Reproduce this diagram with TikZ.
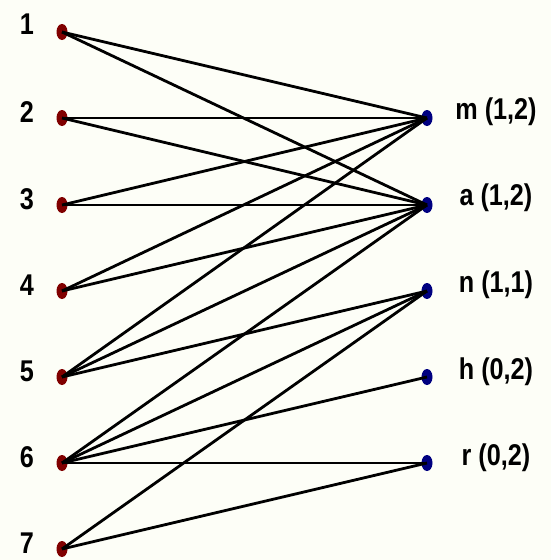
\documentclass[tikz,border=0pt]{standalone}
\usepackage{fontspec}
\setmainfont{Liberation Sans}
\usepackage{xcolor}
\usepackage{tikz}
\usetikzlibrary{shapes.geometric,positioning}

\definecolor{paper}{RGB}{253,254,247}
\definecolor{dotred}{RGB}{128,0,0}
\definecolor{dotblue}{RGB}{0,0,128}
\newcommand{\narrow}[1]{\scalebox{0.84}[1]{#1}}

\begin{document}
\begin{tikzpicture}[
  x=1pt, y=-1pt,
  lbl/.style={font=\bfseries\fontsize{30}{32}\selectfont, inner sep=0pt},
  vdot/.style={ellipse, inner sep=0pt, minimum width=11pt, minimum height=16pt},
  ldot/.style={vdot, fill=dotred},
  rdot/.style={vdot, fill=dotblue},
  edge/.style={line width=2.8pt, black},
]
\useasboundingbox[fill=paper] (0,0) rectangle (551,560);

% left vertices
\node[ldot] (v1) at (62,32) {};
\node[ldot] (v2) at (62,118) {};
\node[ldot] (v3) at (62,205) {};
\node[ldot] (v4) at (62,291) {};
\node[ldot] (v5) at (62,377) {};
\node[ldot] (v6) at (62,463) {};
\node[ldot] (v7) at (62,549) {};

% right vertices
\node[rdot] (m) at (427,118) {};
\node[rdot] (a) at (427,205) {};
\node[rdot] (n) at (427,291) {};
\node[rdot] (h) at (427,377) {};
\node[rdot] (r) at (427,463) {};

% labels
\node[lbl] (l1) at (27,24) {\narrow{1}};
\node[lbl] (l2) at (27,112) {\narrow{2}};
\node[lbl] (l3) at (27,199) {\narrow{3}};
\node[lbl] (l4) at (27,285) {\narrow{4}};
\node[lbl] (l5) at (27,371) {\narrow{5}};
\node[lbl] (l6) at (27,457) {\narrow{6}};
\node[lbl] (l7) at (27,543) {\narrow{7}};
\node[lbl] (lm) at (496,112) {\narrow{m (1,2)}};
\node[lbl] (la) at (496,198) {\narrow{a (1,2)}};
\node[lbl] (ln) at (496,285) {\narrow{n (1,1)}};
\node[lbl] (lh) at (496,372) {\narrow{h (0,2)}};
\node[lbl] (lr) at (496,458) {\narrow{r (0,2)}};

% edges
\draw[edge] (v1.center) -- (m.center);
\draw[edge] (v1.center) -- (a.center);
\draw[edge] (v2.center) -- (m.center);
\draw[edge] (v2.center) -- (a.center);
\draw[edge] (v3.center) -- (m.center);
\draw[edge] (v3.center) -- (a.center);
\draw[edge] (v4.center) -- (m.center);
\draw[edge] (v4.center) -- (a.center);
\draw[edge] (v5.center) -- (m.center);
\draw[edge] (v5.center) -- (a.center);
\draw[edge] (v5.center) -- (n.center);
\draw[edge] (v6.center) -- (a.center);
\draw[edge] (v6.center) -- (n.center);
\draw[edge] (v6.center) -- (h.center);
\draw[edge] (v6.center) -- (r.center);
\draw[edge] (v7.center) -- (n.center);
\draw[edge] (v7.center) -- (r.center);
\end{tikzpicture}
\end{document}
